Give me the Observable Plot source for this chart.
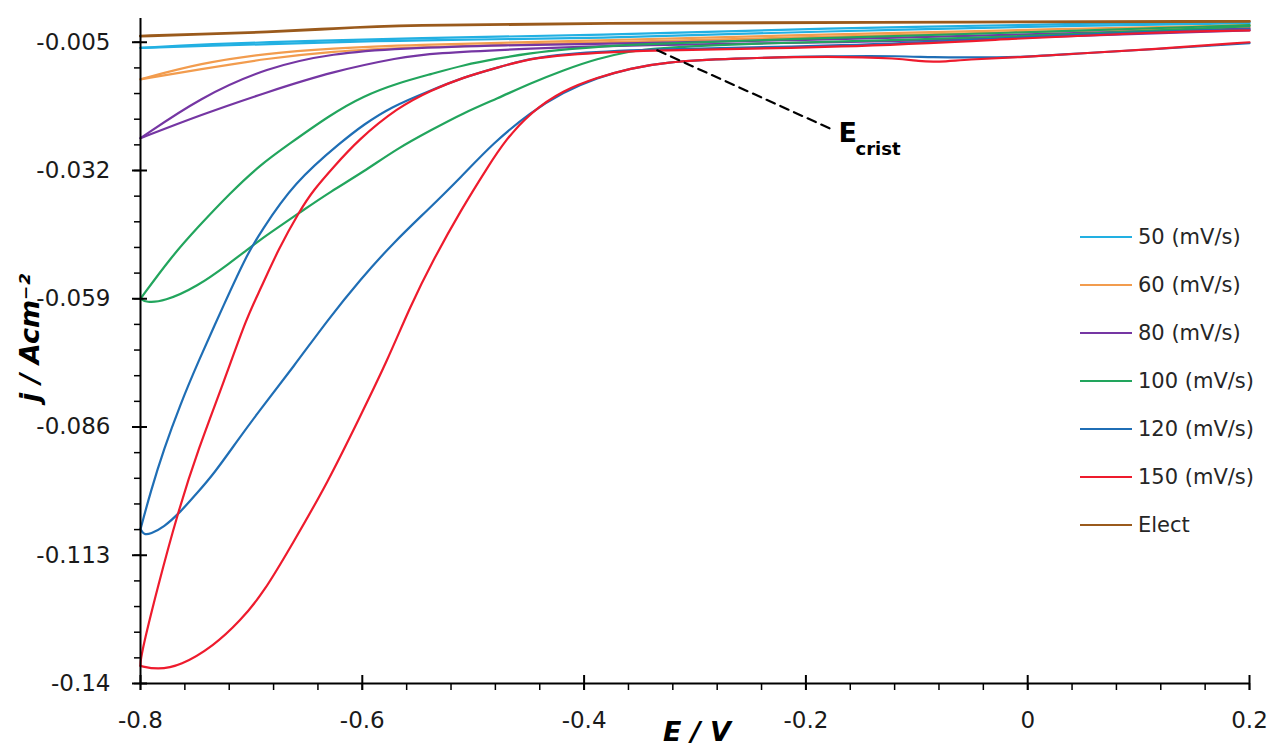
<!DOCTYPE html>
<html><head><meta charset="utf-8">
<script src="https://cdn.jsdelivr.net/npm/d3@7"></script>
<script src="https://cdn.jsdelivr.net/npm/@observablehq/plot@0.6"></script>
<style>
body{margin:0;background:#fff;}
#wrap{position:relative;width:1275px;height:750px;overflow:hidden;background:#fff;}
#legend{position:absolute;left:1080px;top:213px;font-family:"DejaVu Sans",sans-serif;font-size:21px;color:#262626;}
.row{display:flex;align-items:center;height:48px;white-space:nowrap;}
.sw{width:52px;height:2.5px;margin-right:6px;}
</style></head><body><div id="wrap"><div id="legend"></div></div>
<script>
// ---- data (E in V, j in A/cm^2) ----
const seriesNames = ["50 (mV/s)","60 (mV/s)","80 (mV/s)","100 (mV/s)","120 (mV/s)","150 (mV/s)","Elect"];
const seriesColors = ["#22b0e2","#f29c4e","#7536a3","#22a55d","#1f6eb5","#ee1b2d","#9a5a1c"];

const E50 = [0.200,0.066,-0.191,-0.385,-0.566,-0.626,-0.746,-0.800,-0.746,-0.626,-0.566,-0.385,-0.191,0.066,0.200];
const J50 = [-0.0008,-0.0010,-0.0021,-0.0035,-0.0042,-0.0046,-0.0054,-0.0062,-0.0058,-0.0050,-0.0046,-0.0042,-0.0027,-0.0014,-0.0010];

const E60 = [0.200,-0.025,-0.205,-0.385,-0.566,-0.626,-0.686,-0.746,-0.800,-0.746,-0.686,-0.626,-0.566,-0.385,-0.205,-0.025,0.200];
const J60 = [-0.0014,-0.0025,-0.0035,-0.0046,-0.0056,-0.0063,-0.0073,-0.0094,-0.0128,-0.0107,-0.0084,-0.0069,-0.0061,-0.0050,-0.0040,-0.0029,-0.0019];

const E80 = [0.200,-0.025,-0.205,-0.358,-0.475,-0.566,-0.626,-0.686,-0.746,-0.800,-0.746,-0.686,-0.626,-0.566,-0.538,-0.448,-0.358,-0.160,-0.025,0.200];
const J80 = [-0.0021,-0.0035,-0.0046,-0.0052,-0.0056,-0.0063,-0.0073,-0.0103,-0.0166,-0.0252,-0.0203,-0.0155,-0.0111,-0.0082,-0.0073,-0.0063,-0.0056,-0.0050,-0.0042,-0.0025];

const E100 = [0.200,-0.025,-0.205,-0.358,-0.419,-0.448,-0.478,-0.509,-0.538,-0.568,-0.599,-0.629,-0.667,-0.692,-0.719,-0.749,-0.773,-0.800,
  -0.795,-0.779,-0.749,-0.719,-0.704,-0.692,-0.683,-0.653,-0.629,-0.599,-0.568,-0.538,-0.509,-0.478,-0.448,-0.419,-0.388,-0.358,-0.340,-0.250,-0.115,0.066,0.200];
const J100 = [-0.0014,-0.0031,-0.0042,-0.0054,-0.0065,-0.0073,-0.0084,-0.0098,-0.0117,-0.0136,-0.0163,-0.0203,-0.0266,-0.0308,-0.0367,-0.0441,-0.0504,-0.0590,
  -0.0598,-0.0596,-0.0565,-0.0514,-0.0487,-0.0466,-0.0451,-0.0403,-0.0365,-0.0323,-0.0273,-0.0235,-0.0199,-0.0168,-0.0136,-0.0109,-0.0084,-0.0069,-0.0063,-0.0052,-0.0046,-0.0031,-0.0016];

const E120 = [0.200,0.111,0.050,-0.009,-0.054,-0.085,-0.115,-0.175,-0.269,-0.328,-0.358,-0.388,-0.419,-0.448,-0.482,-0.511,-0.541,-0.572,-0.602,-0.631,-0.662,-0.692,-0.713,-0.734,-0.749,-0.764,-0.779,-0.791,-0.797,-0.800,
  -0.791,-0.779,-0.764,-0.749,-0.724,-0.704,-0.692,-0.662,-0.617,-0.599,-0.575,-0.538,-0.509,-0.478,-0.448,-0.419,-0.358,-0.160,-0.009,0.111,0.200];
const J120 = [-0.0052,-0.0065,-0.0073,-0.0082,-0.0082,-0.0082,-0.0079,-0.0079,-0.0084,-0.0092,-0.0105,-0.0124,-0.0155,-0.0197,-0.0262,-0.0334,-0.0403,-0.0472,-0.0550,-0.0634,-0.0733,-0.0823,-0.0890,-0.0959,-0.0999,-0.1039,-0.1071,-0.1085,-0.1087,-0.1075,
  -0.0997,-0.0907,-0.0812,-0.0728,-0.0598,-0.0497,-0.0451,-0.0346,-0.0256,-0.0224,-0.0187,-0.0151,-0.0124,-0.0103,-0.0084,-0.0075,-0.0065,-0.0058,-0.0040,-0.0027,-0.0023];

const E150 = [0.200,0.111,0.050,-0.009,-0.054,-0.081,-0.099,-0.115,-0.175,-0.269,-0.328,-0.358,-0.388,-0.419,-0.448,-0.471,-0.487,-0.511,-0.536,-0.557,-0.577,-0.602,-0.631,-0.662,-0.689,-0.710,-0.734,-0.764,-0.785,-0.800,
  -0.800,-0.785,-0.766,-0.748,-0.725,-0.704,-0.692,-0.676,-0.656,-0.644,-0.626,-0.604,-0.568,-0.538,-0.509,-0.478,-0.448,-0.419,-0.358,-0.160,-0.009,0.111,0.200];
const J150 = [-0.0050,-0.0065,-0.0073,-0.0082,-0.0086,-0.0092,-0.0090,-0.0084,-0.0079,-0.0084,-0.0092,-0.0105,-0.0124,-0.0151,-0.0197,-0.0256,-0.0313,-0.0403,-0.0508,-0.0607,-0.0718,-0.0838,-0.0976,-0.1102,-0.1209,-0.1268,-0.1321,-0.1363,-0.1371,-0.1363,
  -0.1344,-0.1201,-0.1037,-0.0907,-0.0766,-0.0628,-0.0571,-0.0487,-0.0403,-0.0361,-0.0313,-0.0256,-0.0187,-0.0151,-0.0124,-0.0103,-0.0084,-0.0077,-0.0067,-0.0061,-0.0042,-0.0029,-0.0025];

const EElect = [-0.800,-0.746,-0.686,-0.626,-0.566,-0.385,-0.160,0.200];
const JElect = [-0.0037,-0.0033,-0.0029,-0.0021,-0.0014,-0.0010,-0.0008,-0.0006];

// annotation
const ecristE = [-0.334,-0.175];
const ecristJ = [-0.0067,-0.0235];
const ecristLabel = {E:-0.1706, j:-0.0241};

// axes
const xMajor = [-0.8,-0.6,-0.4,-0.2,0,0.2];
const xTickLabels = ["-0.8","-0.6","-0.4","-0.2","0","0.2"];
const yMajor = [-0.14,-0.113,-0.086,-0.059,-0.032,-0.005];
const yTickLabels = ["-0.14","-0.113","-0.086","-0.059","-0.032","-0.005"];
const xMinor = d3.range(0,26).map(i => -0.8 + i*0.04);
const yMinor = d3.range(0,26).map(i => -0.14 + i*0.0054);

// ---- build table: each sweep split at the switching potential into two branches ----
const Es = [E50,E60,E80,E100,E120,E150,EElect];
const Js = [J50,J60,J80,J100,J120,J150,JElect];
const rows = [];
seriesNames.forEach((s,k)=>{
  const E=Es[k], J=Js[k];
  const tip = E.indexOf(d3.min(E));
  E.forEach((e,i)=>{
    if(i<=tip) rows.push({s, b:s+"|a", E:e, j:J[i]});
    if(i>=tip) rows.push({s, b:s+"|b", E:e, j:J[i]});
  });
});

const W=1275,H=750,mL=140,mR=26,mT=18,mB=67;
const plotW=W-mL-mR, plotH=H-mT-mB;
const FONT="'DejaVu Sans', sans-serif";

const chart = Plot.plot({
  width:W, height:H, marginLeft:mL, marginRight:mR, marginTop:mT, marginBottom:mB,
  style:{fontFamily:FONT, fontSize:"23px", color:"#1a1a1a", background:"white", overflow:"visible"},
  x:{domain:[-0.8,0.2]},
  y:{domain:[-0.14,0]},
  color:{domain:seriesNames, range:seriesColors},
  marks:[
    Plot.line(rows,{x:"E", y:"j", z:"b", stroke:"s", curve:"basis", strokeWidth:d=>d.s==="Elect"?2.8:2.2}),
    Plot.line(ecristE.map((e,i)=>({E:e,j:ecristJ[i]})),{x:"E",y:"j",stroke:"black",strokeWidth:2.2,strokeDasharray:"9,6"}),
    Plot.text([ecristLabel],{x:"E",y:"j",text:()=>"E",textAnchor:"start",fontSize:27,fontWeight:"bold",fill:"black"}),
    Plot.text([ecristLabel],{x:"E",y:"j",text:()=>"crist",textAnchor:"start",dx:17,dy:16,fontSize:18,fontWeight:"bold",fill:"black"}),
    // axis lines
    Plot.ruleY([-0.14],{stroke:"black",strokeWidth:2}),
    Plot.ruleX([-0.8],{stroke:"black",strokeWidth:2}),
    // ticks
    Plot.ruleX(xMinor,{x:d=>d, insetTop:plotH, insetBottom:-7, stroke:"black", strokeWidth:1.5}),
    Plot.ruleX(xMajor,{x:d=>d, insetTop:plotH-8, insetBottom:-7, stroke:"black", strokeWidth:2}),
    Plot.ruleY(yMinor,{y:d=>d, insetLeft:-6, insetRight:plotW, stroke:"black", strokeWidth:1.5}),
    Plot.ruleY(yMajor,{y:d=>d, insetLeft:-8, insetRight:plotW-7, stroke:"black", strokeWidth:2}),
    Plot.axisX({ticks:xMajor, tickSize:0, tickPadding:28, tickFormat:d=>xTickLabels[xMajor.indexOf(d)], label:null, fontSize:23}),
    Plot.axisY({ticks:yMajor, tickSize:0, tickPadding:30, tickFormat:d=>yTickLabels[yMajor.indexOf(d)], label:null, fontSize:23}),
    Plot.text([0],{frameAnchor:"bottom", textAnchor:"middle", lineAnchor:"middle", dx:2, dy:49, text:()=>"E / V", fontSize:27, fontWeight:"bold", fontStyle:"italic", fill:"black"}),
    Plot.text([0],{frameAnchor:"left", textAnchor:"middle", lineAnchor:"middle", dx:-110, dy:-13, rotate:-90, text:()=>"j / Acm⁻²", fontSize:27, fontWeight:"bold", fontStyle:"italic", fill:"black"})
  ]
});
document.getElementById("wrap").prepend(chart);

const leg = document.getElementById("legend");
seriesNames.forEach((s,i)=>{
  const r=document.createElement("div"); r.className="row";
  const sw=document.createElement("div"); sw.className="sw"; sw.style.background=seriesColors[i];
  const t=document.createElement("span"); t.textContent=s;
  r.appendChild(sw); r.appendChild(t); leg.appendChild(r);
});
</script></body></html>
